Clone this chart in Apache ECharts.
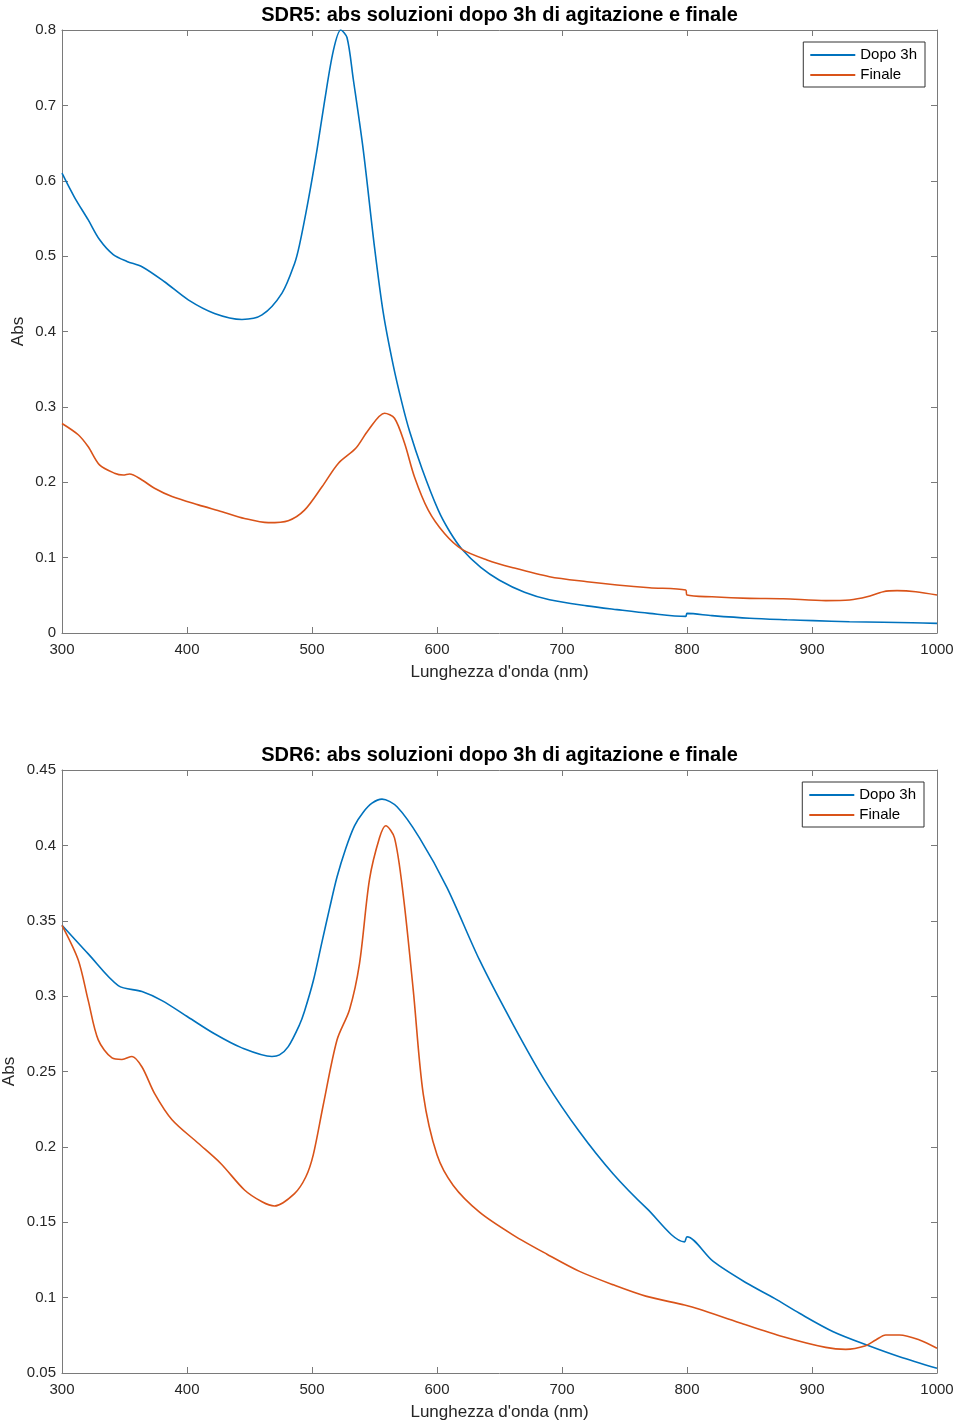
<!DOCTYPE html>
<html>
<head>
<meta charset="utf-8">
<script src="https://cdn.jsdelivr.net/npm/echarts@6/dist/echarts.min.js"></script>
<style>
html,body{margin:0;padding:0;background:#fff;}
#c{width:958px;height:1425px;}
</style>
</head>
<body>
<div id="c"></div>
<script>
// ---------- DATA ----------
const titles = ['SDR5: abs soluzioni dopo 3h di agitazione e finale', 'SDR6: abs soluzioni dopo 3h di agitazione e finale'];
const seriesNames = ['Dopo 3h', 'Finale'];
const xName = "Lunghezza d'onda (nm)";
const yName = 'Abs';

// SDR5 - Dopo 3h
const sdr5DopoWl = [300,310,321,330,341,352,364,382,401,422,444,460,476,486,490,497,504,510,517,523,528,533,541,550,557,565,572,578,588,601,610,620,635,650,670,690,720,744,770,799,800,820,850,880,901,930,957,980,1000];
const sdr5DopoAbs = [0.610,0.578,0.548,0.522,0.502,0.493,0.486,0.466,0.442,0.424,0.416,0.422,0.451,0.490,0.515,0.574,0.641,0.705,0.772,0.800,0.790,0.735,0.641,0.512,0.425,0.355,0.305,0.268,0.218,0.163,0.135,0.111,0.087,0.070,0.054,0.044,0.036,0.031,0.026,0.022,0.026,0.023,0.0195,0.0175,0.0164,0.015,0.0142,0.0135,0.0128];
// SDR5 - Finale
const sdr5FinWl = [300,313,321,330,342,349,354,364,374,388,409,428,446,465,481,494,508,521,535,545,558,566,574,582,593,606,620,640,660,690,720,744,770,799,800,820,850,877,911,930,944,957,968,983,1000];
const sdr5FinAbs = [0.278,0.263,0.247,0.223,0.212,0.2096,0.211,0.203,0.192,0.181,0.170,0.161,0.152,0.1464,0.149,0.163,0.194,0.225,0.245,0.269,0.2915,0.285,0.252,0.207,0.163,0.132,0.111,0.097,0.087,0.0747,0.068,0.0637,0.060,0.057,0.0504,0.048,0.046,0.0455,0.043,0.0438,0.048,0.0548,0.0562,0.0548,0.0504];

// SDR6 - Dopo 3h
const sdr6DopoWl = [300,321,345,364,380,401,422,443,468,474,481,490,494,501,508,514,520,527,534,541,548,556,568,586,608,634,661,687,714,741,768,798,800,821,848,870,890,917,946,970,1000];
const sdr6DopoAbs = [0.347,0.328,0.307,0.303,0.297,0.286,0.275,0.266,0.260,0.261,0.2665,0.281,0.290,0.310,0.336,0.358,0.379,0.398,0.413,0.422,0.428,0.4307,0.4256,0.405,0.372,0.324,0.281,0.243,0.210,0.182,0.159,0.137,0.1404,0.124,0.1095,0.0995,0.0896,0.0774,0.0679,0.0608,0.0531];
// SDR6 - Finale
const sdr6FinWl = [300,313,321,329,340,348,356,364,374,388,409,427,446,460,470,486,495,501,509,520,530,538,546,554,559,566,573,581,589,600,613,634,661,688,714,741,767,798,810,842,877,911,927,943,951,959,970,986,1000];
const sdr6FinAbs = [0.347,0.324,0.297,0.271,0.259,0.258,0.260,0.253,0.2355,0.218,0.2024,0.189,0.1714,0.1636,0.1608,0.169,0.180,0.1947,0.2278,0.2709,0.291,0.3216,0.3774,0.405,0.413,0.405,0.367,0.304,0.235,0.1947,0.1744,0.1567,0.1415,0.1288,0.1174,0.1085,0.101,0.0951,0.0923,0.0834,0.0741,0.067,0.0657,0.0681,0.0719,0.0752,0.0752,0.0719,0.0664];

// axis ranges
const xRange = {min: 300, max: 1000, interval: 100};
const y5Range = {min: 0, max: 0.8, interval: 0.1};
const y6Range = {min: 0.05, max: 0.45, interval: 0.05};

// ---------- STYLE ----------
const FONT = 'Liberation Sans, Arial, Helvetica, sans-serif';
const AXIS_COLOR = '#7a7a7a';
const LABEL_COLOR = '#262626';
const BLUE = '#0072BD';
const ORANGE = '#D95319';

const zip = (a, b) => a.map((w, i) => [w, b[i]]);
const fmt = v => String(+v.toFixed(2));
const fmtX = v => String(Math.round(v));

const grids = [
  {left: 62, top: 30, width: 875, height: 603, containLabel: false, outerBoundsMode: 'none'},
  {left: 62, top: 770, width: 875, height: 603, containLabel: false, outerBoundsMode: 'none'}
];

function xAxes(gi) {
  const common = {
    type: 'value', gridIndex: gi, min: xRange.min, max: xRange.max, interval: xRange.interval,
    axisLine: {show: true, onZero: false, lineStyle: {color: AXIS_COLOR, width: 1}},
    axisTick: {show: true, inside: true, length: 6, lineStyle: {color: AXIS_COLOR}},
    splitLine: {show: false}
  };
  return [
    Object.assign({}, common, {
      position: 'bottom',
      axisLabel: {show: true, color: LABEL_COLOR, fontSize: 15, fontFamily: FONT, margin: 9, formatter: fmtX, hideOverlap: false},
      name: xName, nameLocation: 'middle', nameGap: 31, nameMoveOverlap: false,
      nameTextStyle: {color: LABEL_COLOR, fontSize: 17, fontFamily: FONT}
    }),
    Object.assign({}, common, {position: 'top', axisLabel: {show: false}})
  ];
}
function yAxes(gi, r, gap) {
  const common = {
    type: 'value', gridIndex: gi, min: r.min, max: r.max, interval: r.interval,
    axisLine: {show: true, onZero: false, lineStyle: {color: AXIS_COLOR, width: 1}},
    axisTick: {show: true, inside: true, length: 6, lineStyle: {color: AXIS_COLOR}},
    splitLine: {show: false}
  };
  return [
    Object.assign({}, common, {
      position: 'left',
      axisLabel: {show: true, color: LABEL_COLOR, fontSize: 15, fontFamily: FONT, margin: 6, formatter: fmt, hideOverlap: false},
      name: yName, nameLocation: 'middle', nameGap: gap, nameRotate: 90, nameMoveOverlap: false,
      nameTextStyle: {color: LABEL_COLOR, fontSize: 17, fontFamily: FONT}
    }),
    Object.assign({}, common, {position: 'right', axisLabel: {show: false}})
  ];
}

function lineSeries(name, data, color, xi, yi) {
  return {
    type: 'line', name: name, data: data, xAxisIndex: xi, yAxisIndex: yi,
    symbol: 'none', smooth: 0.3,
    lineStyle: {color: color, width: 1.6}, itemStyle: {color: color},
    animation: false
  };
}

function legend(top, right) {
  return {
    data: seriesNames, orient: 'vertical', top: top, right: right,
    icon: 'rect', itemWidth: 45, itemHeight: 2, itemGap: 4, padding: [5, 8, 4, 7],
    borderColor: '#333', borderWidth: 1, backgroundColor: '#fff',
    textStyle: {color: '#000', fontSize: 15, fontFamily: FONT, lineHeight: 16},
    selectedMode: false
  };
}

const option = {
  backgroundColor: '#fff',
  animation: false,
  grid: grids,
  xAxis: [...xAxes(0), ...xAxes(1)],
  yAxis: [...yAxes(0, y5Range, 35), ...yAxes(1, y6Range, 44)],
  legend: [legend(42, 33), legend(782, 34)],
  series: [
    lineSeries(seriesNames[0], zip(sdr5DopoWl, sdr5DopoAbs), BLUE, 0, 0),
    lineSeries(seriesNames[1], zip(sdr5FinWl, sdr5FinAbs), ORANGE, 0, 0),
    lineSeries(seriesNames[0], zip(sdr6DopoWl, sdr6DopoAbs), BLUE, 2, 2),
    lineSeries(seriesNames[1], zip(sdr6FinWl, sdr6FinAbs), ORANGE, 2, 2)
  ],
  graphic: [
    {type: 'text', style: {text: titles[0], x: 499.5, y: 15, textAlign: 'center', textVerticalAlign: 'middle', font: 'bold 20px ' + FONT, fill: '#000'}},
    {type: 'text', style: {text: titles[1], x: 499.5, y: 755, textAlign: 'center', textVerticalAlign: 'middle', font: 'bold 20px ' + FONT, fill: '#000'}}
  ]
};

const chart = echarts.init(document.getElementById('c'), null, {renderer: 'canvas'});
chart.setOption(option);
</script>
</body>
</html>
